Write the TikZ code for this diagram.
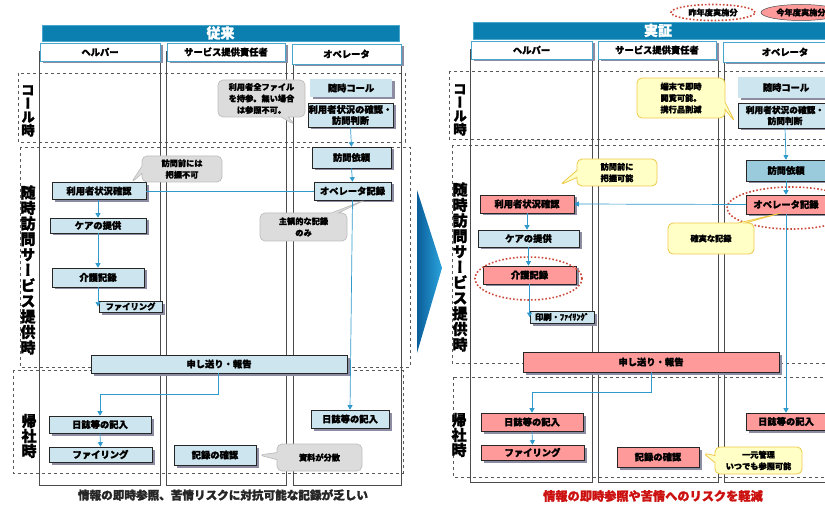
\documentclass[tikz,border=0pt]{standalone}
\usepackage{fontspec}
\setmainfont{Noto Sans CJK JP}[BoldFeatures={FakeBold=1.6}]
\newfontfamily\vjp{Noto Sans CJK JP}[RawFeature=+vert,BoldFeatures={FakeBold=1.6}]
\usetikzlibrary{shapes.callouts,shapes.geometric,shadows,arrows.meta}
\definecolor{tb}{HTML}{0A7FB0}
\definecolor{lb}{HTML}{CDE5EF}
\definecolor{mb}{HTML}{9ACBDD}
\definecolor{pk}{HTML}{FF9A9A}
\definecolor{shd}{HTML}{8C8CA2}
\definecolor{hb}{HTML}{4AA6CC}
\definecolor{cb}{HTML}{2F9ACB}
\definecolor{gf}{HTML}{DCDCDC}
\definecolor{gd}{HTML}{BDBDBD}
\definecolor{yf}{HTML}{FFFFC6}
\definecolor{yd}{HTML}{EEC84A}
\definecolor{rd}{HTML}{CC4A3A}
\definecolor{capred}{HTML}{CC1111}
\definecolor{ar1}{HTML}{0B5E9A}
\definecolor{ar2}{HTML}{2BA4DC}
\newcommand\nodefnt{\fontsize{9.3}{11}\selectfont\bfseries}
\newcommand\callfnt{\fontsize{8.2}{11.5}\selectfont\bfseries}
\tikzset{
  shd/.style={drop shadow={shadow xshift=2.5pt,shadow yshift=-2.5pt,fill=shd,opacity=1}},
  box/.style={shd,draw=black!85,line width=0.6pt,fill=lb,font=\nodefnt,inner sep=0pt,align=center},
  pbox/.style={box,fill=pk},
  hdr/.style={shd,draw=hb,line width=0.8pt,fill=white,font=\nodefnt,inner sep=0pt},
  conn/.style={draw=cb,line width=0.7pt},
  arr/.style={conn,-{Triangle[width=5pt,length=4.5pt]}},
  gcall/.style={rectangle callout,rounded corners=5pt,fill=gf,draw=gd,line width=0.7pt,font=\callfnt,align=center,inner sep=0pt},
  ycall/.style={rectangle callout,rounded corners=5pt,fill=yf,draw=yd,line width=0.8pt,font=\callfnt,align=center,inner sep=0pt},
  sect/.style={draw=black!65,dashed,line width=0.6pt},
  lane/.style={draw=black!70,line width=1pt},
  vlab/.style={inner sep=0pt,align=center},
  titlebar/.style={fill=tb,draw=hb,line width=0.5pt,text=white,font=\fontsize{14}{16}\selectfont\bfseries,inner sep=0pt}
}
\begin{document}
\begin{tikzpicture}[x=1pt,y=-1pt]
\useasboundingbox (0,0) rectangle (825,505);
% ---------------- LEFT PANEL ----------------
\draw[sect] (18,73) rectangle (405,142);
\draw[sect] (20,147) rectangle (410,367);
\draw[sect] (13,370) rectangle (403,473);
\draw[lane] (39,52) rectangle (160,485);
\draw[lane] (166,52) rectangle (286,485);
\draw[lane] (293,54) rectangle (401,485);
\node[titlebar,minimum width=357pt,minimum height=16pt] (Ltitle) at (220.5,33) {従来};
\node[hdr,minimum width=120pt,minimum height=18pt] (Lh1) at (100,52) {ヘルパー};
\node[hdr,minimum width=118pt,minimum height=18pt] (Lh2) at (226,52) {サービス提供責任者};
\node[hdr,minimum width=109pt,minimum height=20pt] (Lh3) at (346.5,54) {オペレータ};
\node[vlab,font={\vjp\bfseries\fontsize{13.5}{13.5}\selectfont}] (Ls1) at (28,111) {コ\\ー\\ル\\時};
\node[vlab,font={\vjp\bfseries\fontsize{15}{15.5}\selectfont}] (Ls2) at (28,270) {随\\時\\訪\\問\\サ\\ー\\ビ\\ス\\提\\供\\時};
\node[vlab,font={\vjp\bfseries\fontsize{15}{15}\selectfont}] (Ls3) at (29,436) {帰\\社\\時};
% nodes
\node[box,draw=none,minimum width=82pt,minimum height=18pt] (Lcall) at (351,88) {随時コール};
\node[box,minimum width=85pt,minimum height=24pt] (Ljudge) at (350.5,115) {利用者状況の確認・\\訪問判断};
\node[box,minimum width=79pt,minimum height=21pt] (Lreq) at (351.5,157.5) {訪問依頼};
\node[box,minimum width=77pt,minimum height=18pt] (Loprec) at (352.5,191) {オペレータ記録};
\node[box,minimum width=94pt,minimum height=17pt] (Lcheck) at (99,191) {利用者状況確認};
\node[box,minimum width=96pt,minimum height=15pt] (Lcare) at (98,225.5) {ケアの提供};
\node[box,minimum width=92pt,minimum height=19pt] (Lkaigo) at (98,277.5) {介護記録};
\node[box,minimum width=63pt,minimum height=11pt,font=\fontsize{8.3}{9}\selectfont\bfseries] (Lfile1) at (130.5,306.5) {ファイリング};
\node[box,minimum width=256pt,minimum height=18pt] (Lreport) at (219,364) {申し送り・報告};
\node[box,minimum width=102pt,minimum height=17pt] (Ldiary) at (100,424.5) {日誌等の記入};
\node[box,minimum width=103pt,minimum height=15pt] (Lfile2) at (100.5,454.5) {ファイリング};
\node[box,minimum width=82pt,minimum height=20pt] (Lconfirm) at (215,455) {記録の確認};
\node[box,minimum width=78pt,minimum height=18pt] (Ldiary2) at (350,419) {日誌等の記入};
% callouts
\node[gcall,minimum width=87pt,minimum height=37pt,callout absolute pointer={(295,125)}] (Lc1) at (261.5,98.5) {利用者全ファイル\\を持参。無い場合\\は参照不可。};
\node[gcall,minimum width=80pt,minimum height=26pt,callout absolute pointer={(131,183)}] (Lc2) at (182,169) {訪問前には\\把握不可};
\node[gcall,minimum width=87pt,minimum height=28pt,callout absolute pointer={(365,200)}] (Lc3) at (303.5,227) {主観的な記録\\のみ};
\node[gcall,minimum width=85pt,minimum height=27pt,callout absolute pointer={(259,455)}] (Lc4) at (319.5,457.5) {資料が分散};
% connectors
\draw[arr] (Ljudge.south) -- (Lreq.north);
\draw[arr] (Lreq.south) -- (Loprec.north);
\draw[conn] (Lcheck.east) -- (Loprec.west);
\draw[arr] (Loprec.south) -- (Ldiary2.north);
\draw[arr] (Lcheck.south -| Lcare.north) -- (Lcare.north);
\draw[arr] (Lcare.south) -- (Lkaigo.north);
\draw[arr] (Lkaigo.south) -- (Lkaigo.south |- Lfile1.west);
\draw[arr] ([xshift=-1pt]Lreport.south) -- ++(0,21) -| (Ldiary.north);
\draw[arr] (Ldiary.south) -- (Lfile2.north);
\node[font=\fontsize{11.6}{13}\selectfont\bfseries,text=black!85,inner sep=0pt] (Lcap) at (223,495) {情報の即時参照、苦情リスクに対抗可能な記録が乏しい};
% ---------------- MIDDLE ARROW ----------------
\shade[left color=ar1,right color=ar2] (417,190) -- (442,268) -- (417,353) -- cycle;
% ---------------- RIGHT PANEL ----------------
\draw[sect] (449,71) rectangle (835,139);
\draw[sect] (452,145) rectangle (835,363);
\draw[sect] (453,377) rectangle (835,477);
\draw[lane] (470,50) rectangle (592,482);
\draw[lane] (598,50) rectangle (718,482);
\draw[lane] (724,52) rectangle (840,482);
\node[titlebar,minimum width=370pt,minimum height=17pt] (Rtitle) at (658,30.5) {実証};
\node[hdr,minimum width=121pt,minimum height=18pt] (Rh1) at (531.5,50) {ヘルパー};
\node[hdr,minimum width=118pt,minimum height=18pt] (Rh2) at (657,50) {サービス提供責任者};
\node[hdr,minimum width=124pt,minimum height=20pt] (Rh3) at (785,52) {オペレータ};
\node[vlab,font={\vjp\bfseries\fontsize{13.5}{13.5}\selectfont}] (Rs1) at (460,110) {コ\\ー\\ル\\時};
\node[vlab,font={\vjp\bfseries\fontsize{15}{15.5}\selectfont}] (Rs2) at (460,267) {随\\時\\訪\\問\\サ\\ー\\ビ\\ス\\提\\供\\時};
\node[vlab,font={\vjp\bfseries\fontsize{15}{15}\selectfont}] (Rs3) at (459,435) {帰\\社\\時};
% legend
\node[ellipse,draw=rd,dotted,line width=1.6pt,minimum width=84pt,minimum height=16pt,inner sep=0pt,font=\callfnt] (leg1) at (713,12.5) {昨年度実施分};
\node[ellipse,draw=black!70,fill=pk,line width=0.5pt,minimum width=80pt,minimum height=16pt,inner sep=0pt,font=\callfnt] (leg2) at (801,12.5) {今年度実施分};
% nodes
\node[box,draw=none,minimum width=96pt,minimum height=21pt] (Rcall) at (786,87.5) {随時コール};
\node[box,minimum width=94pt,minimum height=25pt,font=\fontsize{8.7}{11}\selectfont\bfseries] (Rjudge) at (785,115.5) {利用者状況の確認・\\訪問判断};
\node[box,fill=mb,minimum width=80pt,minimum height=21pt] (Rreq) at (786,170.5) {訪問依頼};
\node[pbox,minimum width=79pt,minimum height=19pt] (Roprec) at (786,204.5) {オペレータ記録};
\node[pbox,minimum width=94pt,minimum height=18pt] (Rcheck) at (527,204) {利用者状況確認};
\node[box,minimum width=101pt,minimum height=17pt] (Rcare) at (528.5,238.5) {ケアの提供};
\node[pbox,minimum width=93pt,minimum height=18pt] (Rkaigo) at (529.5,275) {介護記録};
\node[box,minimum width=64pt,minimum height=12pt,font=\fontsize{8.3}{9}\selectfont\bfseries] (Rprint) at (562,317) {印刷・ﾌｧｲﾘﾝｸﾞ};
\node[pbox,minimum width=256pt,minimum height=20pt] (Rreport) at (651,362) {申し送り・報告};
\node[pbox,minimum width=102pt,minimum height=18pt] (Rdiary) at (532,422) {日誌等の記入};
\node[pbox,minimum width=103pt,minimum height=15pt] (Rfile) at (532.5,452.5) {ファイリング};
\node[pbox,minimum width=82pt,minimum height=20pt] (Rconfirm) at (658,457) {記録の確認};
\node[pbox,minimum width=79pt,minimum height=17pt] (Rdiary2) at (786,421.5) {日誌等の記入};
% ellipses
\node[ellipse,draw=rd,dotted,line width=1.6pt,minimum width=128pt,minimum height=42pt] (Rell1) at (791,208) {};
\node[ellipse,draw=rd,dotted,line width=1.6pt,minimum width=107pt,minimum height=43pt] (Rell2) at (528.5,278.5) {};
% callouts
\node[ycall,minimum width=88pt,minimum height=40pt,callout absolute pointer={(735,122)}] (Ry1) at (681,98) {端末で即時\\閲覧可能。\\携行品削減};
\node[ycall,minimum width=80pt,minimum height=27pt,callout absolute pointer={(560,185)}] (Ry2) at (617,172.5) {訪問前に\\把握可能};
\node[ycall,minimum width=86pt,minimum height=31pt,callout absolute pointer={(781,213)}] (Ry3) at (711,238.5) {確実な記録};
\node[ycall,minimum width=87pt,minimum height=27pt,callout absolute pointer={(703,453)}] (Ry4) at (758.5,460.5) {一元管理\\いつでも参照可能};
% connectors
\draw[arr] (Rjudge.south) -- (Rreq.north);
\draw[arr] (Rreq.south) -- (Roprec.north);
\draw[arr] (Roprec.west) -- (Rcheck.east);
\draw[arr] (Roprec.south) -- (Rdiary2.north);
\draw[arr] (Rcheck.south) -- (Rcheck.south |- Rcare.north);
\draw[arr] (Rcare.south) -- (Rcare.south |- Rkaigo.north);
\draw[arr] (Rkaigo.south) -- (Rkaigo.south |- Rprint.west);
\draw[arr] (Rreport.south) -- ++(0,20) -| (Rdiary.north);
\draw[arr] (Rdiary.south) -- (Rfile.north);
\node[font=\fontsize{12.2}{14}\selectfont\bfseries,text=capred,inner sep=0pt] (Rcap) at (653,496) {情報の即時参照や苦情へのリスクを軽減};
\end{tikzpicture}
\end{document}
